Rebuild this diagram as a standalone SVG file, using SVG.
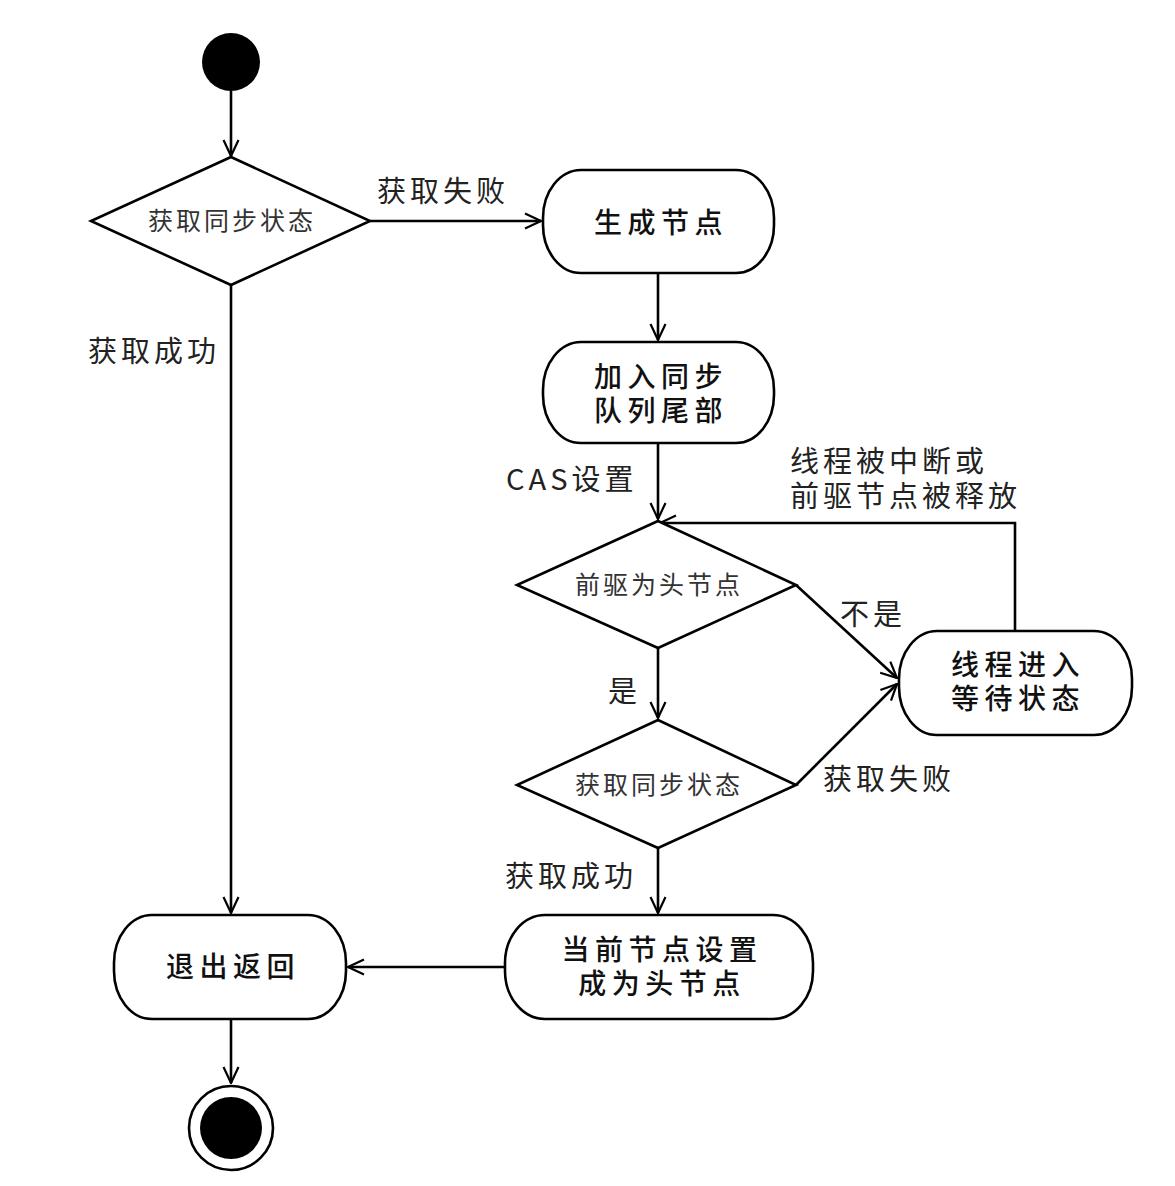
<svg xmlns="http://www.w3.org/2000/svg" width="1175" height="1186" viewBox="0 0 1175 1186">
<defs>
<marker id="arr" viewBox="0 0 18 18" refX="17" refY="9" markerWidth="18" markerHeight="18" markerUnits="userSpaceOnUse" orient="auto">
<path d="M1,1.5 L17,9 L1,16.5" fill="none" stroke="#000" stroke-width="2.2"/>
</marker>
</defs>
<style>
.ln{fill:none;stroke:#000;stroke-width:2.6}
.sh{fill:#fff;stroke:#000;stroke-width:2.6}
.t{font-family:"Noto Sans CJK SC","Liberation Sans",sans-serif;fill:#222}
.dt{font-size:25px;letter-spacing:3px;text-anchor:middle;fill:#333}
.bt{font-size:28px;letter-spacing:5.5px;text-anchor:middle;font-weight:500;fill:#111}
.lb{font-size:29px;letter-spacing:4px;fill:#222}
</style>
<rect width="1175" height="1186" fill="#fff"/>
<g id="connectors">
<line class="ln" x1="231" y1="91" x2="231" y2="156" marker-end="url(#arr)"/>
<line class="ln" x1="370" y1="221" x2="541" y2="221" marker-end="url(#arr)"/>
<line class="ln" x1="658" y1="273" x2="658" y2="340" marker-end="url(#arr)"/>
<line class="ln" x1="658" y1="443" x2="658" y2="519" marker-end="url(#arr)"/>
<line class="ln" x1="796" y1="585" x2="897" y2="678" marker-end="url(#arr)"/>
<polyline class="ln" points="1015,631 1015,523 660,523" marker-end="url(#arr)"/>
<line class="ln" x1="658" y1="648" x2="658" y2="718" marker-end="url(#arr)"/>
<line class="ln" x1="796" y1="785" x2="897" y2="684" marker-end="url(#arr)"/>
<line class="ln" x1="658" y1="848" x2="658" y2="913" marker-end="url(#arr)"/>
<line class="ln" x1="505" y1="967" x2="348" y2="967" marker-end="url(#arr)"/>
<line class="ln" x1="231" y1="285" x2="231" y2="913" marker-end="url(#arr)"/>
<line class="ln" x1="231" y1="1019" x2="231" y2="1083" marker-end="url(#arr)"/>
<text class="t lb" x="377" y="202">获取失败</text>
<text class="t lb" x="88" y="362">获取成功</text>
<text class="t lb" x="506" y="490">CAS设置</text>
<text class="t lb" x="790" y="472">线程被中断或<tspan x="790" dy="35">前驱节点被释放</tspan></text>
<text class="t lb" x="840" y="625">不是</text>
<text class="t lb" x="608" y="702">是</text>
<text class="t lb" x="823" y="790">获取失败</text>
<text class="t lb" x="505" y="887">获取成功</text>
</g>
<g id="start">
<circle cx="231" cy="62" r="29" fill="#000"/>
</g>
<g id="decision1">
<polygon class="sh" points="231,157 370,221 231,285 91,221"/>
<text class="t dt" x="232" y="230">获取同步状态</text>
</g>
<g id="createNode">
<rect class="sh" x="543" y="170" width="231" height="103" rx="38" ry="48"/>
<text class="t bt" x="661" y="233">生成节点</text>
</g>
<g id="enqueue">
<rect class="sh" x="543" y="342" width="231" height="101" rx="38" ry="48"/>
<text class="t bt" x="661" y="387">加入同步<tspan x="661" dy="34">队列尾部</tspan></text>
</g>
<g id="decision2">
<polygon class="sh" points="658,521 796,585 658,648 517,585"/>
<text class="t dt" x="659" y="594">前驱为头节点</text>
</g>
<g id="wait">
<rect class="sh" x="899" y="631" width="233" height="104" rx="38" ry="48"/>
<text class="t bt" x="1018" y="675">线程进入<tspan x="1018" dy="34">等待状态</tspan></text>
</g>
<g id="decision3">
<polygon class="sh" points="658,720 796,785 658,848 517,785"/>
<text class="t dt" x="659" y="794">获取同步状态</text>
</g>
<g id="setHead">
<rect class="sh" x="505" y="915" width="308" height="104" rx="40" ry="48"/>
<text class="t bt" x="662" y="960">当前节点设置<tspan x="662" dy="34">成为头节点</tspan></text>
</g>
<g id="exit">
<rect class="sh" x="114" y="915" width="232" height="104" rx="38" ry="48"/>
<text class="t bt" x="233" y="977">退出返回</text>
</g>
<g id="end">
<circle cx="231" cy="1128" r="42" fill="#fff" stroke="#000" stroke-width="2.6"/>
<circle cx="231" cy="1128" r="31" fill="#000"/>
</g>
</svg>
